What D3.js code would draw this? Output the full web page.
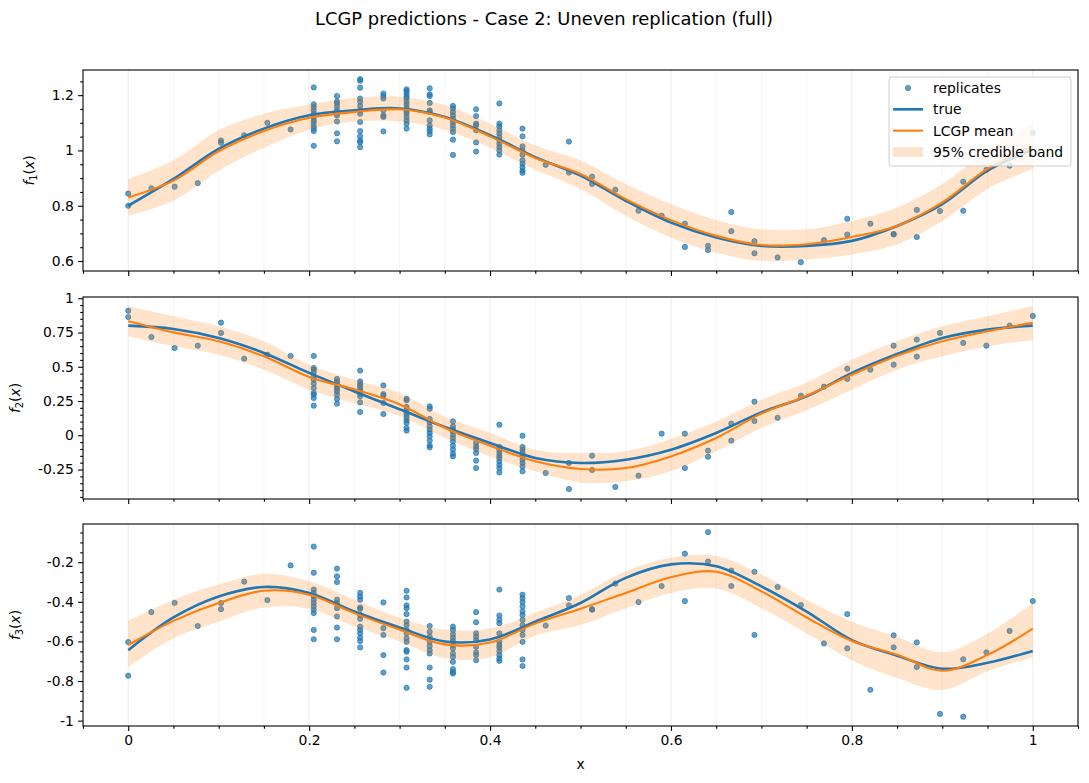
<!DOCTYPE html>
<html>
<head>
<meta charset="utf-8">
<script src="https://cdn.jsdelivr.net/npm/d3@7/dist/d3.min.js"></script>
<style>
  body { margin: 0; background: #fff; }
  text { font-family: "DejaVu Sans", sans-serif; fill: #000; }
</style>
</head>
<body>
<svg id="chart" width="1089" height="783"></svg>
<script>
// design points (40 x locations, uneven replication)
const designX = [0, 0.0256, 0.0513, 0.0769, 0.1026, 0.1282, 0.1538, 0.1795, 0.2051, 0.2308,
  0.2564, 0.2821, 0.3077, 0.3333, 0.359, 0.3846, 0.4103, 0.4359, 0.4615, 0.4872,
  0.5128, 0.5385, 0.5641, 0.5897, 0.6154, 0.641, 0.6667, 0.6923, 0.7179, 0.7436,
  0.7692, 0.7949, 0.8205, 0.8462, 0.8718, 0.8974, 0.9231, 0.9487, 0.9744, 1];

// replicate observations, one list per design point
const f1Obs = [
  [0.844, 0.8], [0.863], [0.869], [0.882], [1.036, 1.028], [1.055], [1.1], [1.076],
  [1.228, 1.167, 1.157, 1.145, 1.133, 1.12, 1.109, 1.1, 1.088, 1.079, 1.07, 1.017],
  [1.197, 1.178, 1.17, 1.158, 1.145, 1.136, 1.127, 1.105, 1.062, 1.033],
  [1.258, 1.252, 1.227, 1.188, 1.176, 1.161, 1.145, 1.133, 1.103, 1.07, 1.051, 1.036, 1.03, 1.012],
  [1.206, 1.197, 1.188, 1.145, 1.127, 1.121, 1.069],
  [1.221, 1.215, 1.206, 1.196, 1.188, 1.176, 1.166, 1.154, 1.142, 1.133, 1.121, 1.109, 1.097, 1.079],
  [1.225, 1.203, 1.197, 1.172, 1.145, 1.139, 1.109, 1.091, 1.079, 1.07, 1.058],
  [1.161, 1.152, 1.139, 1.127, 1.115, 1.103, 1.091, 1.079, 1.067, 1.039, 0.984],
  [1.149, 1.124, 1.097, 1.091, 1.073, 1.029, 0.996],
  [1.17, 1.097, 1.087, 1.073, 1.061, 1.048, 1.036, 1.024, 1.012, 1.0, 0.985],
  [1.079, 1.051, 1.015, 1.0, 0.984, 0.964, 0.952, 0.939, 0.927, 0.919],
  [0.948], [1.032, 0.92], [0.905, 0.879], [0.858], [0.782], [0.764], [0.735, 0.651],
  [0.655, 0.64], [0.777, 0.708], [0.672, 0.628], [0.613], [0.596], [0.676], [0.753, 0.696],
  [0.735], [0.698, 0.696], [0.785, 0.687], [0.781], [0.887, 0.782], [0.93], [0.945], [1.064]
];
const f2Obs = [
  [0.909, 0.863], [0.717], [0.637], [0.654], [0.822, 0.747], [0.559], [0.588], [0.579],
  [0.579, 0.491, 0.479, 0.459, 0.43, 0.406, 0.377, 0.345, 0.309, 0.296, 0.272, 0.216],
  [0.411, 0.393, 0.374, 0.357, 0.338, 0.32, 0.296, 0.265, 0.231],
  [0.472, 0.393, 0.374, 0.357, 0.338, 0.32, 0.304, 0.284, 0.24, 0.17],
  [0.364, 0.301, 0.289, 0.236, 0.155],
  [0.267, 0.255, 0.207, 0.187, 0.167, 0.15, 0.131, 0.109, 0.09, 0.053, 0.034],
  [0.211, 0.194, 0.119, 0.094, 0.065, 0.041, 0.017, -0.008, -0.039, -0.074, -0.088],
  [0.101, 0.065, 0.046, 0.028, 0.004, -0.02, -0.045, -0.076, -0.105, -0.134, -0.154],
  [-0.056, -0.081, -0.1, -0.129, -0.185, -0.239],
  [0.077, -0.085, -0.105, -0.129, -0.149, -0.166, -0.19, -0.215, -0.239, -0.271],
  [-0.003, -0.085, -0.105, -0.129, -0.154, -0.178, -0.202, -0.227, -0.263],
  [-0.275], [-0.202, -0.392], [-0.149, -0.253], [-0.377], [-0.295], [0.012], [0.012, -0.239],
  [-0.112, -0.156], [0.085, -0.039], [0.245, 0.104], [0.128], [0.289], [0.355], [0.486, 0.411],
  [0.479], [0.654, 0.515], [0.698, 0.574], [0.747], [0.674], [0.654], [0.8], [0.871]
];
const f3Obs = [
  [-0.603, -0.773], [-0.452], [-0.405], [-0.522], [-0.406, -0.437], [-0.298], [-0.391], [-0.216],
  [-0.121, -0.253, -0.338, -0.355, -0.373, -0.389, -0.406, -0.423, -0.44, -0.457, -0.542, -0.589],
  [-0.232, -0.271, -0.3, -0.389, -0.406, -0.432, -0.474, -0.53, -0.589],
  [-0.355, -0.373, -0.389, -0.429, -0.435, -0.466, -0.486, -0.525, -0.542, -0.559, -0.581, -0.598, -0.63],
  [-0.403, -0.533, -0.567, -0.669, -0.757],
  [-0.344, -0.378, -0.418, -0.432, -0.462, -0.5, -0.517, -0.542, -0.559, -0.584, -0.602, -0.644, -0.652, -0.691, -0.732, -0.834],
  [-0.522, -0.551, -0.576, -0.602, -0.623, -0.644, -0.661, -0.732, -0.793, -0.829],
  [-0.525, -0.542, -0.564, -0.581, -0.598, -0.618, -0.635, -0.661, -0.678, -0.703, -0.74, -0.754, -0.762],
  [-0.452, -0.503, -0.559, -0.576, -0.593, -0.627, -0.655, -0.669, -0.695],
  [-0.338, -0.469, -0.491, -0.508, -0.559, -0.602, -0.618, -0.632, -0.649, -0.669, -0.686, -0.698],
  [-0.364, -0.381, -0.401, -0.423, -0.449, -0.466, -0.491, -0.517, -0.542, -0.567, -0.602, -0.691, -0.724],
  [-0.52], [-0.381, -0.418], [-0.437, -0.44], [-0.308], [-0.401], [-0.32], [-0.157, -0.396],
  [-0.048, -0.197], [-0.242, -0.32], [-0.248, -0.567], [-0.325], [-0.416], [-0.61], [-0.462, -0.635],
  [-0.844], [-0.569, -0.63], [-0.605, -0.729], [-0.966], [-0.69, -0.98], [-0.655], [-0.547], [-0.396]
];

// curves sampled on a 0.05 grid
const curveX = [0, 0.05, 0.1, 0.15, 0.2, 0.25, 0.3, 0.35, 0.4, 0.45, 0.5,
  0.55, 0.6, 0.65, 0.7, 0.75, 0.8, 0.85, 0.9, 0.95, 1];

const f1True = [0.8, 0.897, 1.006, 1.079, 1.127, 1.145, 1.152, 1.121, 1.055, 0.976, 0.909,
  0.818, 0.739, 0.685, 0.655, 0.655, 0.673, 0.727, 0.806, 0.927, 1.003];
const f1Mean = [0.83, 0.891, 0.997, 1.07, 1.118, 1.139, 1.149, 1.119, 1.051, 0.973, 0.915,
  0.824, 0.748, 0.691, 0.658, 0.661, 0.687, 0.727, 0.812, 0.933, 1.015];
const f1Lo = [0.764, 0.818, 0.927, 1.01, 1.075, 1.105, 1.105, 1.075, 1.01, 0.93, 0.861,
  0.764, 0.685, 0.63, 0.6, 0.606, 0.624, 0.661, 0.745, 0.861, 0.933];
const f1Hi = [0.897, 0.964, 1.073, 1.133, 1.166, 1.19, 1.194, 1.164, 1.097, 1.018, 0.964,
  0.879, 0.806, 0.748, 0.715, 0.715, 0.745, 0.794, 0.879, 1.0, 1.097];

const f2True = [0.8, 0.776, 0.71, 0.601, 0.455, 0.32, 0.19, 0.06, -0.056, -0.166, -0.202,
  -0.178, -0.105, 0.017, 0.167, 0.284, 0.455, 0.593, 0.71, 0.771, 0.8];
const f2Mean = [0.832, 0.751, 0.686, 0.576, 0.426, 0.335, 0.225, 0.055, -0.076, -0.19, -0.246,
  -0.239, -0.154, -0.02, 0.158, 0.289, 0.442, 0.581, 0.686, 0.759, 0.82];
const f2Lo = [0.722, 0.649, 0.588, 0.479, 0.333, 0.236, 0.14, -0.02, -0.154, -0.263, -0.344,
  -0.336, -0.263, -0.117, 0.053, 0.182, 0.333, 0.479, 0.576, 0.649, 0.693];
const f2Hi = [0.941, 0.868, 0.795, 0.686, 0.515, 0.406, 0.31, 0.135, 0.017, -0.105, -0.129,
  -0.117, -0.027, 0.101, 0.26, 0.386, 0.552, 0.686, 0.795, 0.868, 0.946];

const f3True = [-0.644, -0.479, -0.373, -0.325, -0.355, -0.449, -0.53, -0.6, -0.59, -0.5, -0.406,
  -0.279, -0.211, -0.22, -0.322, -0.449, -0.593, -0.672, -0.738, -0.708, -0.648];
const f3Mean = [-0.618, -0.496, -0.406, -0.344, -0.364, -0.457, -0.54, -0.615, -0.605, -0.51, -0.435,
  -0.355, -0.276, -0.248, -0.347, -0.479, -0.598, -0.667, -0.748, -0.668, -0.535];
const f3Lo = [-0.729, -0.584, -0.5, -0.429, -0.435, -0.525, -0.6, -0.685, -0.68, -0.57, -0.517,
  -0.432, -0.355, -0.333, -0.432, -0.559, -0.695, -0.785, -0.845, -0.75, -0.678];
const f3Hi = [-0.496, -0.389, -0.313, -0.258, -0.296, -0.389, -0.48, -0.54, -0.535, -0.455, -0.364,
  -0.245, -0.177, -0.169, -0.262, -0.389, -0.5, -0.576, -0.655, -0.56, -0.406];

// tick values
const xTicks = [0, 0.2, 0.4, 0.6, 0.8, 1];
const f1Ticks = [0.6, 0.8, 1, 1.2];
const f2Ticks = [-0.25, 0, 0.25, 0.5, 0.75, 1];
const f3Ticks = [-1, -0.8, -0.6, -0.4, -0.2];

const legendLabels = ["replicates", "true", "LCGP mean", "95% credible band"];

const BLUE = "#1f77b4", ORANGE = "#ff7f0e";
const left = 83, right = 1078;
const fontSize = 13.9;

// plain %g style labels with an ascii minus
const fmt = d => d3.format("~g")(d).replace("\u2212", "-");

const svg = d3.select("#chart");
const defs = svg.append("defs");

const x = d3.scaleLinear().domain([-0.05, 1.05]).range([left, right]);
const xMinor = d3.range(-0.05, 1.0501, 0.05).map(v => +v.toFixed(2));

const panels = [
  {top: 70, bottom: 271, domain: [0.564, 1.291], ticks: f1Ticks, obs: f1Obs,
   truth: f1True, mean: f1Mean, lo: f1Lo, hi: f1Hi, sub: "1", labelX: 34},
  {top: 297, bottom: 499, domain: [-0.465, 1.009], ticks: f2Ticks, obs: f2Obs,
   truth: f2True, mean: f2Mean, lo: f2Lo, hi: f2Hi, sub: "2", labelX: 20},
  {top: 524, bottom: 726, domain: [-1.027, -0.007], ticks: f3Ticks, obs: f3Obs,
   truth: f3True, mean: f3Mean, lo: f3Lo, hi: f3Hi, sub: "3", labelX: 20}
];

// title
svg.append("text")
  .attr("x", 544).attr("y", 25)
  .attr("text-anchor", "middle")
  .style("font-size", "17.9px")
  .text("LCGP predictions - Case 2: Uneven replication (full)");

panels.forEach((p, k) => {
  const y = d3.scaleLinear().domain(p.domain).range([p.bottom, p.top]);
  const yMinor = d3.range(Math.ceil(p.domain[0] / 0.05) * 0.05, p.domain[1], 0.05)
    .map(v => +v.toFixed(2));

  const clipId = "clip" + k;
  defs.append("clipPath").attr("id", clipId)
    .append("rect")
    .attr("x", left).attr("y", p.top)
    .attr("width", right - left).attr("height", p.bottom - p.top);

  const g = svg.append("g");
  const plot = g.append("g").attr("clip-path", `url(#${clipId})`);

  // vertical grid, major and minor
  plot.append("g").selectAll("line")
    .data(xMinor.filter(v => !xTicks.includes(v)))
    .join("line")
    .attr("x1", d => x(d)).attr("x2", d => x(d))
    .attr("y1", p.top).attr("y2", p.bottom)
    .attr("stroke", "#f2f2f2").attr("stroke-width", 0.8);
  plot.append("g").selectAll("line")
    .data(xTicks)
    .join("line")
    .attr("x1", d => x(d)).attr("x2", d => x(d))
    .attr("y1", p.top).attr("y2", p.bottom)
    .attr("stroke", "#e8e8e8").attr("stroke-width", 0.8);

  // replicates
  const pts = p.obs.flatMap((vals, i) => vals.map(v => ({x: designX[i], y: v})));
  plot.append("g").selectAll("circle")
    .data(pts)
    .join("circle")
    .attr("cx", d => x(d.x))
    .attr("cy", d => y(d.y))
    .attr("r", 2.6)
    .attr("fill", BLUE).attr("fill-opacity", 0.7)
    .attr("stroke", BLUE).attr("stroke-opacity", 0.7).attr("stroke-width", 1);

  // credible band
  const band = d3.area()
    .x((d, i) => x(curveX[i]))
    .y0((d, i) => y(p.lo[i]))
    .y1((d, i) => y(p.hi[i]))
    .curve(d3.curveCatmullRom);
  plot.append("path")
    .datum(p.lo)
    .attr("d", band)
    .attr("fill", ORANGE).attr("fill-opacity", 0.22);

  const line = vals => d3.line()
    .x((d, i) => x(curveX[i]))
    .y(d => y(d))
    .curve(d3.curveCatmullRom)(vals);

  plot.append("path").attr("d", line(p.truth))
    .attr("fill", "none").attr("stroke", BLUE).attr("stroke-width", 2.6);
  plot.append("path").attr("d", line(p.mean))
    .attr("fill", "none").attr("stroke", ORANGE).attr("stroke-width", 2.1);

  // y axis
  const yAxis = d3.axisLeft(y).tickValues(p.ticks)
    .tickFormat(fmt).tickSize(4.9).tickPadding(4.2);
  const ya = g.append("g").attr("transform", `translate(${left},0)`).call(yAxis);
  const yaMinor = g.append("g").attr("transform", `translate(${left},0)`)
    .call(d3.axisLeft(y).tickValues(yMinor.filter(v => !p.ticks.some(t => Math.abs(t - v) < 1e-6)))
      .tickFormat("").tickSize(2.8));

  // x axis
  const xa = g.append("g").attr("transform", `translate(0,${p.bottom})`)
    .call(d3.axisBottom(x).tickValues(xTicks)
      .tickFormat(k === 2 ? fmt : "").tickSize(4.9).tickPadding(4.2));
  const xaMinor = g.append("g").attr("transform", `translate(0,${p.bottom})`)
    .call(d3.axisBottom(x).tickValues(xMinor.filter(v => !xTicks.includes(v)))
      .tickFormat("").tickSize(2.8));

  [ya, yaMinor, xa, xaMinor].forEach(a => {
    a.select(".domain").remove();
    a.selectAll("line").attr("stroke", "#000").attr("stroke-width", 1.1);
    a.selectAll("text").style("font-size", fontSize + "px")
      .style("font-family", "DejaVu Sans, sans-serif").attr("fill", "#000");
  });

  // frame
  g.append("rect")
    .attr("x", left).attr("y", p.top)
    .attr("width", right - left).attr("height", p.bottom - p.top)
    .attr("fill", "none").attr("stroke", "#000").attr("stroke-width", 1.1);

  // y label f_k(x)
  const lab = g.append("text")
    .attr("transform", `translate(${p.labelX},${(p.top + p.bottom) / 2}) rotate(-90)`)
    .attr("text-anchor", "middle")
    .style("font-size", fontSize + "px");
  lab.append("tspan").style("font-style", "italic").text("f");
  lab.append("tspan").attr("dy", 3).style("font-size", "9.8px").text(p.sub);
  lab.append("tspan").attr("dy", -3).text("(");
  lab.append("tspan").style("font-style", "italic").text("x");
  lab.append("tspan").text(")");
});

// x label
svg.append("text")
  .attr("x", (left + right) / 2).attr("y", 769)
  .attr("text-anchor", "middle")
  .style("font-size", fontSize + "px")
  .text("x");

// legend in the first panel
const lg = svg.append("g").attr("transform", "translate(889,77)");
lg.append("rect")
  .attr("width", 182).attr("height", 89).attr("rx", 3)
  .attr("fill", "#fff").attr("fill-opacity", 0.8)
  .attr("stroke", "#cccccc").attr("stroke-width", 1);
const rowY = d3.scalePoint().domain(legendLabels).range([11, 75]);
legendLabels.forEach((name, i) => {
  const cy = rowY(name);
  if (i === 0) {
    lg.append("circle").attr("cx", 19).attr("cy", cy).attr("r", 2.6)
      .attr("fill", BLUE).attr("fill-opacity", 0.7)
      .attr("stroke", BLUE).attr("stroke-opacity", 0.7).attr("stroke-width", 1);
  } else if (i === 1 || i === 2) {
    lg.append("line").attr("x1", 4).attr("x2", 34).attr("y1", cy).attr("y2", cy)
      .attr("stroke", i === 1 ? BLUE : ORANGE).attr("stroke-width", i === 1 ? 2.6 : 2.1);
  } else {
    lg.append("rect").attr("x", 4).attr("y", cy - 5).attr("width", 30).attr("height", 10)
      .attr("fill", ORANGE).attr("fill-opacity", 0.22);
  }
  lg.append("text").attr("x", 44).attr("y", cy + 5)
    .style("font-size", fontSize + "px")
    .text(name);
});
</script>
</body>
</html>
